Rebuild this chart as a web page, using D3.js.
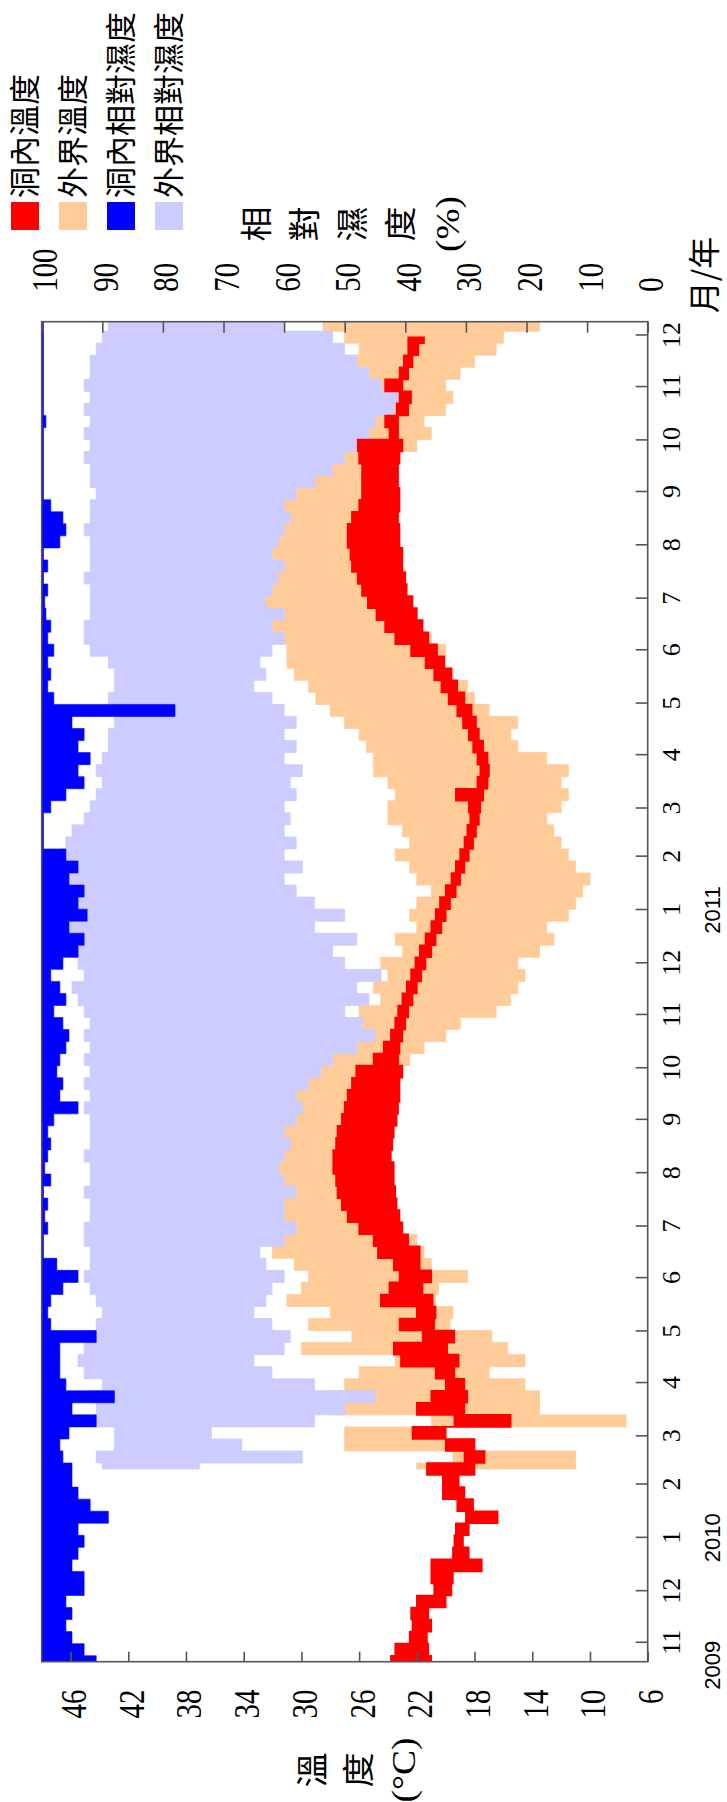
<!DOCTYPE html>
<html>
<head>
<meta charset="utf-8">
<script src="https://cdn.jsdelivr.net/npm/d3@7"></script>
<style>
  body { margin: 0; background: #fff; }
  svg { display: block; }
</style>
</head>
<body>
<svg id="chart" width="727" height="1802"></svg>
<script>
// weekly samples (low / high of each week)
const STEP = 7;
const caveStart = new Date(2009, 9, 21);
const outsideStart = new Date(2010, 1, 10);

const caveTempLo = [21.0,21.2,21.3,21.0,21.2,20.0,19.6,19.5,17.5,18.4,
  18.8,18.4,16.4,18.1,18.7,19.1,18.0,17.3,18.0,20.0,
  15.5,18.7,18.5,18.7,19.4,19.1,19.9,19.4,20.8,20.7,
  20.9,21.6,21.0,21.8,21.8,22.6,23.0,23.2,23.4,23.5,
  23.6,23.6,23.8,23.7,23.6,23.4,23.3,23.2,23.2,23.0,
  23.3,23.2,23.0,22.8,22.6,22.3,22.0,21.7,21.4,21.0,
  20.7,20.3,20.0,19.7,19.3,19.0,18.7,18.4,18.1,17.9,
  17.7,17.6,17.4,17.1,17.0,17.1,17.4,17.7,17.9,18.2,
  18.7,19.2,19.6,20.1,20.6,21.2,21.6,22.0,22.3,22.7,
  22.8,23.0,23.0,23.2,23.2,23.3,23.2,23.2,23.3,23.3,
  23.2,23.0,23.3,23.3,22.6,22.4,23.0,22.6,22.3,21.9,
  21.5];
const caveTempHi = [23.8,23.5,22.5,22.3,22.4,22.0,20.8,21.0,21.0,19.5,
  19.4,19.3,18.6,19.2,20.2,20.2,21.3,18.7,20.0,22.3,
  19.4,22.0,21.0,20.0,20.7,23.1,23.6,21.6,23.2,22.0,
  24.5,23.9,23.2,23.6,24.7,25.0,26.0,26.8,27.2,27.5,
  27.6,27.8,27.8,27.6,27.5,27.2,27.0,26.8,26.5,26.2,
  25.0,24.3,23.8,23.5,23.3,23.0,22.7,22.4,22.1,21.8,
  21.4,21.0,20.7,20.4,20.0,19.6,19.3,19.0,18.7,18.5,
  18.3,18.4,19.3,17.8,17.6,17.8,18.1,18.4,18.8,19.2,
  19.8,20.3,20.8,21.4,22.4,23.5,24.2,24.8,25.4,25.8,
  26.1,26.5,26.6,26.8,26.8,26.5,26.0,25.8,25.8,25.8,
  26.0,26.1,23.9,24.2,23.4,23.2,24.2,23.2,22.9,22.6,
  22.6];

const outsideTempLo = [11,11,18,20,7.5,13.5,13.5,14.5,17,14.5,
  15.7,16.8,19.7,19.5,20.7,20.5,18.5,21,21.5,22,
  23,23.5,23.8,24,24,24.2,24.3,24.2,24,24,
  23.8,23.5,23.5,23,22.5,21.5,20,19,16.5,15.5,
  15,14.5,15,13.5,12.5,13,11.5,11,10.5,10,
  11,11.5,12,12.5,13,12,11.5,12,11.5,13,
  15,15.5,15,17,18,18.5,19.5,20,20,21,
  22,23,23.5,24,24.5,24.5,24.5,24.5,24.7,25,
  25,25,25,24.5,24,22,21,21.5,20,19.5,
  20,19,18,16.5,16,13.5];
const outsideTempHi = [22,19.5,27,27,21,28,28.5,27,26,23.5,
  30,26.5,29.5,28,31,30,29.5,30.5,32,31.5,
  31.8,32,32.2,32.5,32.5,32.2,32,31.8,31.8,31.6,
  31.6,31.5,31.5,31.3,31,30,29,27.5,26,24.5,
  25,24,24.5,23,23.5,22,22.5,22,21,22,
  22.5,23.5,22.5,23,24,24,23.5,24,25,25,
  25.5,26,27,28,29,29.5,30.5,31,31,31.5,
  32,32.5,33,33.5,33.5,33.7,33.5,33.2,33,32.5,
  32.5,32,32,31.5,31,32.5,30,30,28,29,
  30,26,27.5,26,27,28.5];

const caveRHLo = [91,93,95,96,95,96,93,93,95,94,
  93,94,89,92,94,95,95,96.5,97,95.5,
  91,95,88,96,97,97,97,91,98.5,99,
  98.5,96.5,94,97.5,99.7,99.7,99,99.5,99,99.7,
  98.5,99.5,99,98.5,99,98,94,97,96.5,97.5,
  97,96,95.5,96.5,98,96,97,98.5,96.5,94,
  93,95.5,92.5,94,93,95.5,94,96,99.7,99.7,
  99.7,98.5,96,93,94,92,94,93,95,78,
  98,99,98.5,99,98,99,98.5,99.3,99.5,99,
  99.7,99,99.7,97,96,96.5,98.5,99.7,99.7,99.7,
  99.7,99.7,99.7,99.3,99.7,99.7,99.7,99.7,99.7,99.7,
  99.7,99.7];
const caveRHHi = [100,100,100,100,100,100,100,100,100,100,
  100,100,100,100,100,100,100,100,100,100,
  100,100,100,100,100,100,100,100,100,100,
  100,100,100,100,100,100,100,100,100,100,
  100,100,100,100,100,100,100,100,100,100,
  100,100,100,100,100,100,100,100,100,100,
  100,100,100,100,100,100,100,100,100,100,
  100,100,100,100,100,100,100,100,100,100,
  100,100,100,100,100,100,100,100,100,100,
  100,100,100,100,100,100,100,100,100,100,
  100,100,100,100,100,100,100,100,100,100,
  100,100];

const outsideRHLo = [74,57,67,72,55,50,45,55,62,65,
  60,59,62,65,63,62,60,63,64,60,
  58,60,60,58,60,61,60,59,60,58,
  57,58,56,54,52,48,45,47,50,46,
  48,44,50,52,48,55,50,55,58,60,
  57,60,58,60,59,60,58,59,57,60,
  58,60,58,60,62,65,63,64,62,60,
  62,60,63,62,61,60,62,61,60,59,
  60,58,55,52,50,48,46,45,42,40,
  44,46,48,50,52,60];
const outsideRHHi = [90,91,88,88,91,91,92,90,93,94,
  93,92,91,90,91,92,93,92,92,93,
  93,92,92,93,92,92,93,92,92,92,
  93,92,93,92,93,92,93,92,93,94,
  95,93,94,95,94,96,95,97,98,98,
  97,97,96,95,93,92,91,90,91,90,
  89,89,88,88,89,88,88,89,92,93,
  93,92,92,92,93,92,92,92,93,92,
  92,91,92,92,93,92,93,92,93,92,
  93,92,92,91,90,89];

const tempTicks = d3.range(6, 47, 4);
const rhTicks = d3.range(0, 101, 10);
const yearLabels = ['2009', '2010', '2011'];
const yearDates = [new Date(2009, 9, 19), new Date(2010, 0, 1), new Date(2011, 0, 1)];

const legendItems = [
  { label: '洞內溫度', color: '#ff0000' },
  { label: '外界溫度', color: '#ffcc99' },
  { label: '洞內相對濕度', color: '#0000ff' },
  { label: '外界相對濕度', color: '#ccccff' }
];
const tempTitle = ['溫', '度', '(°C)'];
const rhTitle = ['相', '對', '濕', '度', '(%)'];

// the chart is laid out landscape, then turned a quarter to the left
const W = 1802;
const plot = { left: 140.3, right: 1480.3, top: 41.7, bottom: 647.7 };
const serif = "'Liberation Serif','Noto Sans CJK TC',serif";
const cjk = "'Noto Sans CJK TC','Liberation Serif',sans-serif";

const svg = d3.select('#chart');
const g = svg.append('g').attr('transform', `translate(0,${W}) rotate(-90)`);

const x = d3.scaleTime()
  .domain([new Date(2009, 9, 21), new Date(2011, 11, 9)])
  .range([plot.left, plot.right]);
const yT = d3.scaleLinear().domain([6, 48]).range([plot.bottom, plot.top]);
const yH = d3.scaleLinear().domain([0, 100]).range([plot.bottom, plot.top]);

g.append('clipPath').attr('id', 'plotclip')
  .append('rect')
  .attr('x', plot.left).attr('y', plot.top)
  .attr('width', plot.right - plot.left).attr('height', plot.bottom - plot.top);

function band(start, lo, hi, extend) {
  const pts = lo.map((v, i) => ({ date: d3.timeDay.offset(start, i * STEP), lo: v, hi: hi[i] }));
  if (extend) pts.push(Object.assign({}, pts[pts.length - 1], { date: x.domain()[1] }));
  return pts;
}

function drawBand(data, scale, color, strokeW) {
  const area = d3.area()
    .x(d => x(d.date))
    .y0(d => scale(d.lo))
    .y1(d => scale(d.hi))
    .curve(d3.curveStep);
  g.append('path')
    .datum(data)
    .attr('clip-path', 'url(#plotclip)')
    .attr('d', area)
    .attr('fill', color)
    .attr('stroke', color)
    .attr('stroke-width', strokeW);
}

drawBand(band(outsideStart, outsideTempLo, outsideTempHi, true), yT, '#ffcc99', 0.8);
drawBand(band(outsideStart, outsideRHLo, outsideRHHi, true), yH, '#ccccff', 0.8);
drawBand(band(caveStart, caveTempLo, caveTempHi, false), yT, '#ff0000', 1.6);
drawBand(band(caveStart, caveRHLo, caveRHHi, true), yH, '#0000ff', 0.6);

// frame
g.append('rect')
  .attr('x', plot.left).attr('y', plot.top)
  .attr('width', plot.right - plot.left).attr('height', plot.bottom - plot.top)
  .attr('fill', 'none').attr('stroke', '#555').attr('stroke-width', 1.6);

// temperature axis (left of the landscape chart)
const tAxis = g.append('g')
  .attr('transform', `translate(${plot.left},0)`)
  .call(d3.axisLeft(yT).tickValues(tempTicks).tickSize(-10).tickFormat(d3.format('d')));
tAxis.select('.domain').remove();
tAxis.selectAll('line').attr('stroke', '#555').attr('stroke-width', 1.6);
tAxis.selectAll('text')
  .attr('x', -35).attr('y', 15).attr('dy', null)
  .attr('transform', 'scale(0.8,1)')
  .attr('font-family', serif).attr('font-size', 36).attr('fill', '#000');

// humidity axis (right)
const hAxis = g.append('g')
  .attr('transform', `translate(${plot.right},0)`)
  .call(d3.axisRight(yH).tickValues(rhTicks).tickSize(-11).tickFormat(d3.format('d')));
hAxis.select('.domain').remove();
hAxis.selectAll('line').attr('stroke', '#555').attr('stroke-width', 1.6);
hAxis.selectAll('text')
  .attr('x', 37.5).attr('y', 15).attr('dy', null)
  .attr('transform', 'scale(0.8,1)')
  .attr('font-family', serif).attr('font-size', 36).attr('fill', '#000');

// month axis
const mAxis = g.append('g')
  .attr('transform', `translate(0,${plot.bottom})`)
  .call(d3.axisBottom(x).ticks(d3.timeMonth.every(1)).tickSize(-12).tickFormat(d3.timeFormat('%-m')));
mAxis.select('.domain').remove();
mAxis.selectAll('line').attr('stroke', '#555').attr('stroke-width', 1.6);
mAxis.selectAll('text')
  .attr('y', 32).attr('dy', null)
  .attr('font-family', serif).attr('font-size', 26).attr('fill', '#000');

// years
g.selectAll('.year')
  .data(yearLabels)
  .enter().append('text')
  .attr('class', 'year')
  .attr('x', (d, i) => x(yearDates[i]))
  .attr('y', 720)
  .attr('text-anchor', 'middle')
  .attr('font-family', "'Liberation Sans',Arial,sans-serif")
  .attr('font-size', 22)
  .text(d => d);

// axis titles, one glyph group per line
function stack(lines, cx, firstY, pitch) {
  lines.forEach((t, i) => {
    const big = t.length > 1;
    g.append('text')
      .attr('transform', `translate(${cx},${firstY + i * pitch + (big ? 11 : 12)}) scale(1.1,1)`)
      .attr('text-anchor', 'middle')
      .attr('font-family', big ? serif : cjk)
      .attr('font-size', big ? 34 : 32)
      .text(t);
  });
}
stack(tempTitle, 32, 312, 46);
stack(rhTitle, 1578, 256, 48);

g.append('text')
  .attr('x', 1527).attr('y', 716)
  .attr('text-anchor', 'middle')
  .attr('font-family', cjk).attr('font-size', 32)
  .text('月/年');

// legend
const leg = g.append('g').attr('transform', 'translate(1572,11)');
const item = leg.selectAll('g')
  .data(legendItems)
  .enter().append('g')
  .attr('transform', (d, i) => `translate(0,${i * 48})`);
item.append('rect').attr('width', 28).attr('height', 28).attr('fill', d => d.color);
item.append('text')
  .attr('x', 32).attr('y', 25)
  .attr('font-family', cjk).attr('font-size', 31)
  .text(d => d.label);
</script>
</body>
</html>
